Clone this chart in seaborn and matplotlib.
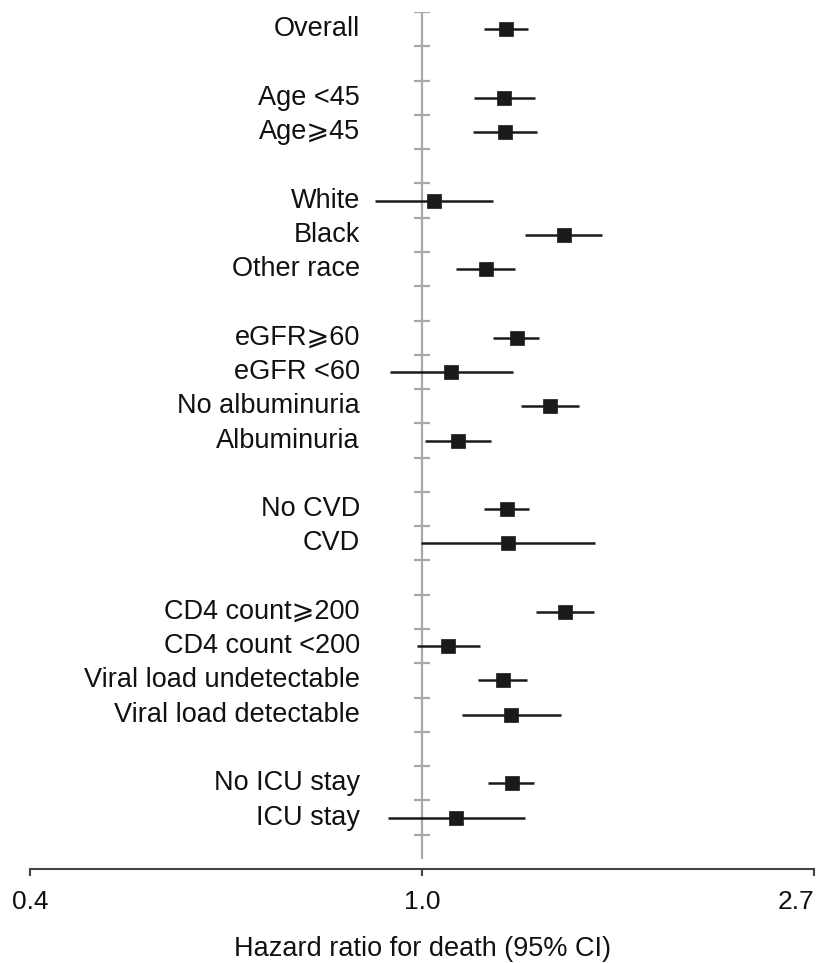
import numpy as np
import pandas as pd
import matplotlib
matplotlib.use("Agg")
import matplotlib.pyplot as plt
import matplotlib.transforms as mtransforms
import seaborn as sns

# ---- data ----
labels = ["Overall", "", "Age <45", "Age\u2a7e45", "", "White", "Black", "Other race", "",
          "eGFR\u2a7e60", "eGFR <60", "No albuminuria", "Albuminuria", "",
          "No CVD", "CVD", "", "CD4 count\u2a7e200", "CD4 count <200",
          "Viral load undetectable", "Viral load detectable", "", "No ICU stay", "ICU stay"]
hr = [1.239, None, 1.233, 1.236, None, 1.031, 1.437, 1.177, None,
      1.274, 1.077, 1.386, 1.096, None, 1.242, 1.245, None,
      1.440, 1.069, 1.229, 1.255, None, 1.258, 1.091]
ci_low = [1.171, None, 1.142, 1.139, None, 0.887, 1.300, 1.091, None,
          1.199, 0.922, 1.287, 1.008, None, 1.171, 0.997, None,
          1.338, 0.987, 1.154, 1.107, None, 1.183, 0.917]
ci_high = [1.310, None, 1.334, 1.341, None, 1.199, 1.583, 1.268, None,
           1.348, 1.261, 1.493, 1.192, None, 1.314, 1.555, None,
           1.551, 1.160, 1.307, 1.426, None, 1.331, 1.300]
xtick_vals = [np.exp(-1), 1.0, np.exp(1)]
xtick_labels = ["0.4", "1.0", "2.7"]
xlabel = "Hazard ratio for death (95% CI)"

df = pd.DataFrame({"label": labels, "hr": hr, "lo": ci_low, "hi": ci_high})
df["row"] = np.arange(len(df))
pts = df.dropna(subset=["hr"])

sns.set_theme(style="white")
plt.rcParams["font.family"] = ["Liberation Sans", "DejaVu Sans"]

fig = plt.figure(figsize=(8.32, 9.63), dpi=100)
ax = fig.add_axes([30/832, (963-869)/963, (814-30)/832, (869-12)/963])

n = len(df)
# reference line at 1.0 with row separators
ax.vlines(1.0, -0.5, n + 0.2, color="#a9a9a9", lw=1.6, zorder=1, clip_on=False)
bounds = np.arange(n + 1) - 0.5
ax.hlines(bounds, np.exp(-0.021), np.exp(0.021), color="#a9a9a9", lw=1.6, zorder=1)

# confidence intervals
ax.hlines(pts["row"], pts["lo"], pts["hi"], color="#1a1a1a", lw=1.8, zorder=2)
sns.scatterplot(data=pts, x="hr", y="row", marker="s", s=100, color="#1a1a1a",
                edgecolor="#1a1a1a", linewidth=0.5, zorder=3, ax=ax, legend=False)

ax.set_xscale("log")
ax.set_xlim(np.exp(-1), np.exp(1))
ax.set_ylim(n + 0.5, -0.5)
ax.set_xticks(xtick_vals)
ax.set_xticklabels(xtick_labels)
ax.xaxis.set_minor_locator(matplotlib.ticker.NullLocator())
ax.set_yticks([])
ax.set_ylabel("")
ax.set_xlabel(xlabel, fontsize=19.5, labelpad=16, color="#111111")
ax.tick_params(axis="x", direction="out", length=5, width=1.5, color="#444444",
               pad=10, labelsize=19, labelcolor="#111111", bottom=True)
ax.get_xticklabels()[-1].set_horizontalalignment("right")

for s in ["left", "top", "right"]:
    ax.spines[s].set_visible(False)
ax.spines["bottom"].set_color("#444444")
ax.spines["bottom"].set_linewidth(1.5)

trans = mtransforms.blended_transform_factory(fig.transFigure, ax.transData)
for r, lab in zip(df["row"], df["label"]):
    if lab:
        ax.text(360/832, r, lab, transform=trans, ha="right", va="center",
                fontsize=19.5, color="#111111")

fig.savefig("out.png", dpi=100)
